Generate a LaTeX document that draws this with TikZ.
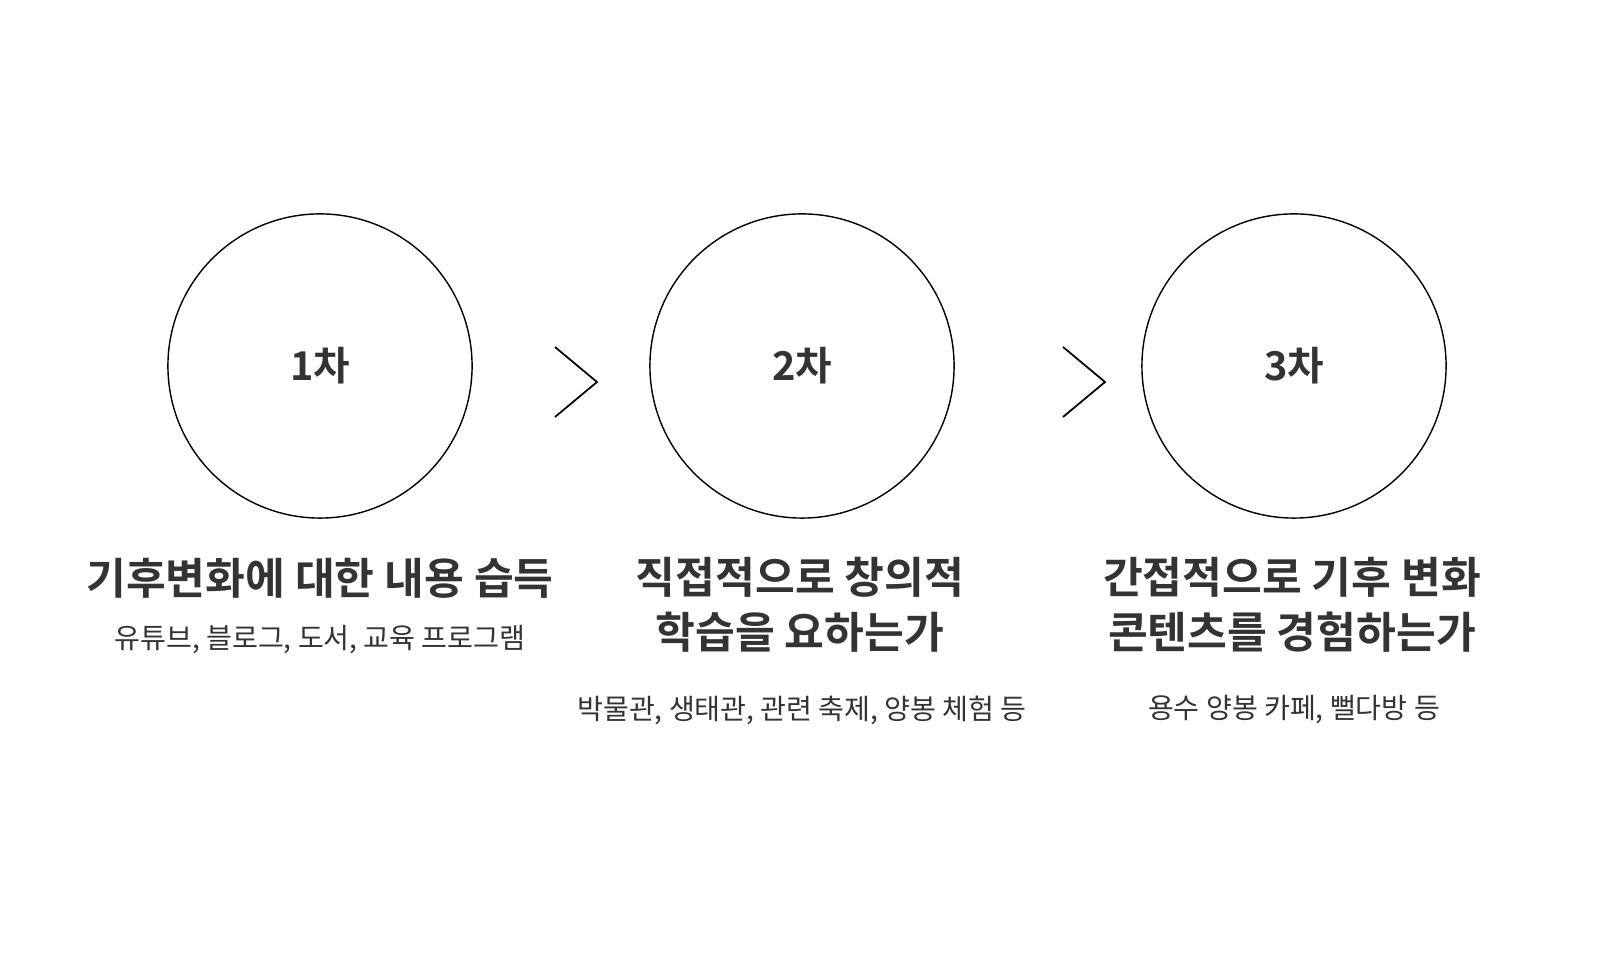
\documentclass[tikz,border=0pt]{standalone}
\usepackage{fontspec}
\setmainfont{Noto Sans CJK KR}[BoldFont={Noto Sans CJK KR Bold}]
\definecolor{inkgray}{HTML}{333333}

\begin{document}
\begin{tikzpicture}[x=0.01cm,y=-0.01cm,
    stage/.style={draw=black, line width=0.4pt, circle, minimum size=3.04cm, inner sep=0pt,
      font=\bfseries\fontsize{11.3}{13}\selectfont, text=inkgray},
    headline/.style={align=center, font=\bfseries\fontsize{12.3}{15.6}\selectfont, text=inkgray},
    example/.style={align=center, font=\fontsize{8}{9.6}\selectfont, text=inkgray},
    chevron/.style={line width=0.5pt}]
  % Frame
  \useasboundingbox (0,0) rectangle (1600,965);

  % Stages
  \node[stage] (first) at (320,366) {1차};
  \node[stage] (second) at (802,366) {2차};
  \node[stage] (third) at (1294,366) {3차};

  % Chevrons between the stages
  \draw[chevron] (555,347) -- (597,382) -- (555,417);
  \draw[chevron] (1063,347) -- (1105,382) -- (1063,417);

  % Headlines
  \node[headline] (firsthead) at (320,578) {기후변화에 대한 내용 습득};
  \node[headline] (secondhead) at (800,605) {직접적으로 창의적\\학습을 요하는가};
  \node[headline] (thirdhead) at (1292,605) {간접적으로 기후 변화\\콘텐츠를 경험하는가};

  % Examples
  \node[example] (firstex) at (320,640) {유튜브, 블로그, 도서, 교육 프로그램};
  \node[example] (secondex) at (802,710) {박물관, 생태관, 관련 축제, 양봉 체험 등};
  \node[example] (thirdex) at (1294,710) {용수 양봉 카페, 뻘다방 등};
\end{tikzpicture}
\end{document}
